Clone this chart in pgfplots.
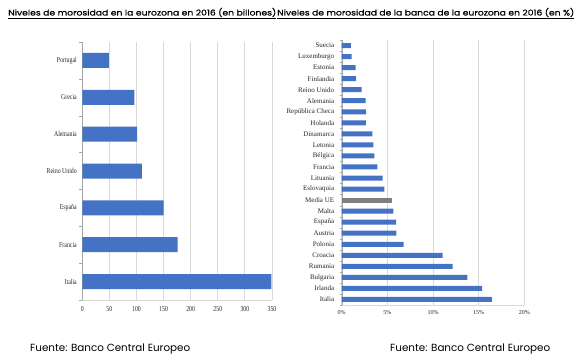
\documentclass[border=0pt]{standalone}
\usepackage{pgfplots}
\pgfplotsset{compat=1.18}
\usepackage{fontspec}
\setmainfont{Liberation Serif}
\newfontfamily\titlefont{Poppins}
\newfontfamily\headfont[FakeBold=0.6]{Poppins}
\definecolor{barblue}{HTML}{4472C4}
\definecolor{bargray}{HTML}{7F7F7F}
\definecolor{gridgray}{HTML}{D9D9D9}
\definecolor{axisgray}{HTML}{A6A6A6}
\newcommand{\nar}[1]{\scalebox{0.78}[1]{#1}}
\begin{document}
\begin{tikzpicture}
\useasboundingbox (0,0) rectangle (584pt,361pt);
% Titles
\node[anchor=base west, inner sep=0pt] at (8pt,345.5pt) {\resizebox{268pt}{7.5pt}{\headfont\underline{Niveles de morosidad en la eurozona en 2016 (en billones)}}};
\node[anchor=base west, inner sep=0pt] at (277pt,345.5pt) {\resizebox{297pt}{7.5pt}{\headfont\underline{Niveles de morosidad de la banca de la eurozona en 2016 (en \%)}}};
% Left chart
\begin{axis}[
  at={(82.3pt,61pt)}, anchor=south west,
  scale only axis, width=189.7pt, height=258pt,
  xmin=0, xmax=350, ymin=-0.5, ymax=6.5,
  xbar, bar width=15pt,
  axis x line*=bottom, axis y line*=left,
  x axis line style={gridgray, -},
  y axis line style={axisgray, -},
  xtick={0,50,...,350},
  xmajorgrids, major grid style={gridgray, line width=0.8pt},
  ytick={0,...,6},
  yticklabels={\nar{Italia},\nar{Francia},\nar{España},\nar{Reino Unido},\nar{Alemania},\nar{Grecia},\nar{Portugal}},
  xticklabels={\nar{0},\nar{50},\nar{100},\nar{150},\nar{200},\nar{250},\nar{300},\nar{350}},
  minor ytick={-0.5,0.5,...,6.5},
  major tick length=0pt, minor tick length=3pt,
  tick align=outside,
  minor tick style={axisgray},
  ticklabel style={font=\fontsize{7.5}{8}\selectfont, text=black!85},
  yticklabel style={xshift=-2pt},
  xticklabel style={yshift=-3pt},
]
\addplot[fill=barblue, draw=none] coordinates {
(349,0) (176,1) (150,2) (110,3) (101,4) (96,5) (49,6)};
\end{axis}
% Right chart
\begin{axis}[
  at={(341.7pt,56pt)}, anchor=south west,
  scale only axis, width=182.6pt, height=265pt,
  xmin=0, xmax=20, ymin=-0.5, ymax=23.5,
  xbar, bar width=5pt,
  axis x line*=bottom, axis y line*=left,
  x axis line style={gridgray, -},
  y axis line style={axisgray, -},
  xtick={0,5,...,20},
  xticklabels={0\%,5\%,10\%,15\%,20\%},
  xmajorgrids, major grid style={gridgray, line width=0.8pt},
  ytick={0,...,23},
  yticklabels={Italia,Irlanda,Bulgaria,Rumania,Croacia,Polonia,Austria,España,Malta,Media UE,Eslovaquia,Lituania,Francia,Bélgica,Letonia,Dinamarca,Holanda,República Checa,Alemania,Reino Unido,Finlandia,Estonia,Luxemburgo,Suecia},
  minor ytick={-0.5,0.5,...,23.5},
  major tick length=0pt, minor tick length=2pt,
  tick align=outside,
  minor tick style={axisgray},
  yticklabel style={font=\fontsize{7}{8}\selectfont, text=black!85, xshift=-4pt},
  xticklabel style={font=\fontsize{6}{7}\selectfont, text=black!85, yshift=-2pt},
]
\addplot[fill=barblue, draw=none, bar shift=0pt] coordinates {
(16.46,0) (15.37,1) (13.76,2) (12.16,3) (11.06,4) (6.79,5) (5.98,6) (5.95,7) (5.65,8)
(4.67,10) (4.49,11) (3.9,12) (3.57,13) (3.46,14) (3.35,15) (2.66,16) (2.68,17) (2.62,18)
(2.19,19) (1.57,20) (1.53,21) (1.1,22) (1.0,23)};
\addplot[fill=bargray, draw=none, bar shift=0pt] coordinates {(5.47,9)};
\end{axis}
% Sources
\node[anchor=base west, inner sep=0pt] at (30pt,9pt) {\resizebox{160pt}{!}{\titlefont Fuente: Banco Central Europeo}};
\node[anchor=base west, inner sep=0pt] at (390pt,9pt) {\resizebox{160pt}{!}{\titlefont Fuente: Banco Central Europeo}};
\end{tikzpicture}
\end{document}
